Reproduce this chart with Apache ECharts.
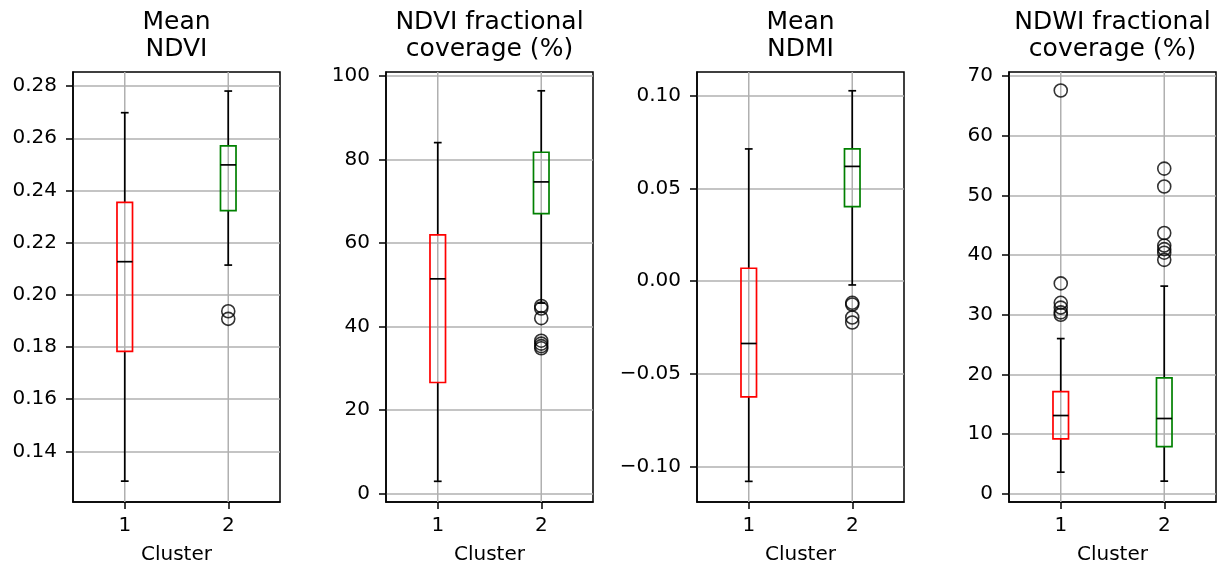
<!DOCTYPE html>
<html>
<head>
<meta charset="utf-8">
<script src="https://cdn.jsdelivr.net/npm/echarts@6/dist/echarts.min.js"></script>
<style>
  html, body { margin: 0; padding: 0; background: #fff; }
  #chart { width: 1225px; height: 570px; }
</style>
</head>
<body>
<div id="chart"></div>
<script>
// categories + titles
const clusters = ['1', '2'];
const titles = ['Mean\nNDVI', 'NDVI fractional\ncoverage (%)', 'Mean\nNDMI', 'NDWI fractional\ncoverage (%)'];
const boxColors = ['#ff0000', '#008000'];

// box stats per cluster: [low whisker, Q1, median, Q3, high whisker]
const meanNdviBox = [[0.1286, 0.1783, 0.2127, 0.2354, 0.2698], [0.2114, 0.2323, 0.2498, 0.2571, 0.2781]];
const ndviCoverBox = [[2.95, 26.6, 51.4, 61.9, 84.0], [45.6, 67.0, 74.6, 81.7, 96.4]];
const meanNdmiBox = [[-0.1077, -0.0622, -0.0335, 0.0070, 0.0712], [-0.0020, 0.0402, 0.0618, 0.0712, 0.1025]];
const ndwiCoverBox = [[3.6, 9.2, 13.1, 17.1, 26.0], [2.1, 7.9, 12.6, 19.4, 34.8]];

// outliers per cluster
const meanNdviOut = [[], [0.1937, 0.1908]];
const ndviCoverOut = [[], [44.9, 44.3, 42.0, 36.6, 35.9, 35.3, 34.8]];
const meanNdmiOut = [[], [-0.0116, -0.0125, -0.0195, -0.0222]];
const ndwiCoverOut = [[67.6, 35.25, 32.0, 31.2, 30.4, 30.0], [54.5, 51.5, 43.7, 41.6, 41.0, 40.4, 39.2]];

// y tick labels
const meanNdviTicks = [0.14, 0.16, 0.18, 0.20, 0.22, 0.24, 0.26, 0.28];
const ndviCoverTicks = [0, 20, 40, 60, 80, 100];
const meanNdmiTicks = [-0.10, -0.05, 0.00, 0.05, 0.10];
const ndwiCoverTicks = [0, 10, 20, 30, 40, 50, 60, 70];

const boxes = [meanNdviBox, ndviCoverBox, meanNdmiBox, ndwiCoverBox];
const outliers = [meanNdviOut, ndviCoverOut, meanNdmiOut, ndwiCoverOut];
const ticks = [meanNdviTicks, ndviCoverTicks, meanNdmiTicks, ndwiCoverTicks];
const yRange = [[0.1206, 0.2854], [-2.0, 100.9], [-0.1188, 0.1126], [-1.4, 70.7]];
const fmt = [
  v => v.toFixed(2),
  v => String(Math.round(v)),
  v => v.toFixed(2).replace('-', '\u2212'),
  v => String(Math.round(v))
];

const FONT = 'DejaVu Sans';
const lefts = [73, 386, 697, 1009];
const gw = 207, gtop = 72, gh = 432;

function renderBox(params, api) {
  const ci = api.value(0);
  const cs = params.coordSys;
  const bw = api.size([1, 0])[0] * 0.15;
  const pt = i => api.coord([ci, api.value(i)]);
  const lo = pt(1), q1 = pt(2), md = pt(3), q3 = pt(4), hi = pt(5);
  const cx = lo[0];
  const blk = { stroke: '#000', lineWidth: 1.7 };
  const line = (x1, y1, x2, y2, style) => ({ type: 'line', shape: { x1, y1, x2, y2 }, style });
  return {
    type: 'group',
    children: [
      // vertical grid line at the category
      line(cx, cs.y, cx, cs.y + cs.height, { stroke: '#b0b0b0', lineWidth: 1.5 }),
      line(cx, lo[1], cx, q1[1], blk),
      line(cx, q3[1], cx, hi[1], blk),
      line(cx - bw / 4, lo[1], cx + bw / 4, lo[1], blk),
      line(cx - bw / 4, hi[1], cx + bw / 4, hi[1], blk),
      {
        type: 'rect',
        shape: { x: cx - bw / 2, y: q3[1], width: bw, height: q1[1] - q3[1] },
        style: { fill: 'none', stroke: boxColors[ci], lineWidth: 1.7 }
      },
      line(cx - bw / 2, md[1], cx + bw / 2, md[1], blk)
    ]
  };
}

const grid = [], xAxis = [], yAxis = [], series = [], title = [];
for (let i = 0; i < 4; i++) {
  grid.push({
    left: lefts[i], top: gtop, width: gw, height: gh,
    show: true, borderColor: '#000', borderWidth: 1.5, backgroundColor: 'transparent'
  });
  title.push({
    text: titles[i], left: lefts[i] + gw / 2, top: 9, textAlign: 'center', padding: 0,
    textStyle: { fontFamily: FONT, fontSize: 25, fontWeight: 'normal', color: '#000', lineHeight: 27 }
  });
  xAxis.push({
    type: 'category', gridIndex: i, data: clusters,
    name: 'Cluster', nameLocation: 'middle', nameGap: 43,
    nameTextStyle: { fontFamily: FONT, fontSize: 20, color: '#000' },
    axisLine: { show: true, onZero: false, lineStyle: { color: '#000', width: 1.5 } },
    axisTick: { show: true, alignWithLabel: true, length: 7, lineStyle: { color: '#000', width: 1.5 } },
    axisLabel: { fontFamily: FONT, fontSize: 20, color: '#000', margin: 14 },
    splitLine: { show: false }
  });
  yAxis.push({
    type: 'value', gridIndex: i, min: yRange[i][0], max: yRange[i][1],
    axisLine: { show: true, onZero: false, lineStyle: { color: '#000', width: 1.5 } },
    axisTick: { show: true, length: 7, customValues: ticks[i], lineStyle: { color: '#000', width: 1.5 } },
    axisLabel: { customValues: ticks[i], formatter: fmt[i], fontFamily: FONT, fontSize: 20, color: '#000', margin: 16 },
    splitLine: { show: true, lineStyle: { color: '#b0b0b0', width: 1.5 } }
  });
  series.push({
    type: 'custom', xAxisIndex: i, yAxisIndex: i, z: 3, silent: true,
    renderItem: renderBox,
    data: boxes[i].map((b, ci) => [ci].concat(b))
  });
  const pts = [];
  outliers[i].forEach((arr, ci) => arr.forEach(v => pts.push([ci, v])));
  series.push({
    type: 'scatter', xAxisIndex: i, yAxisIndex: i, z: 4, silent: true,
    symbol: 'circle', symbolSize: 13,
    itemStyle: { color: 'rgba(0,0,0,0)', borderColor: '#000', borderWidth: 1.6 },
    data: pts
  });
}

const chart = echarts.init(document.getElementById('chart'));
chart.setOption({
  animation: false,
  backgroundColor: '#fff',
  title, grid, xAxis, yAxis, series
});
</script>
</body>
</html>
